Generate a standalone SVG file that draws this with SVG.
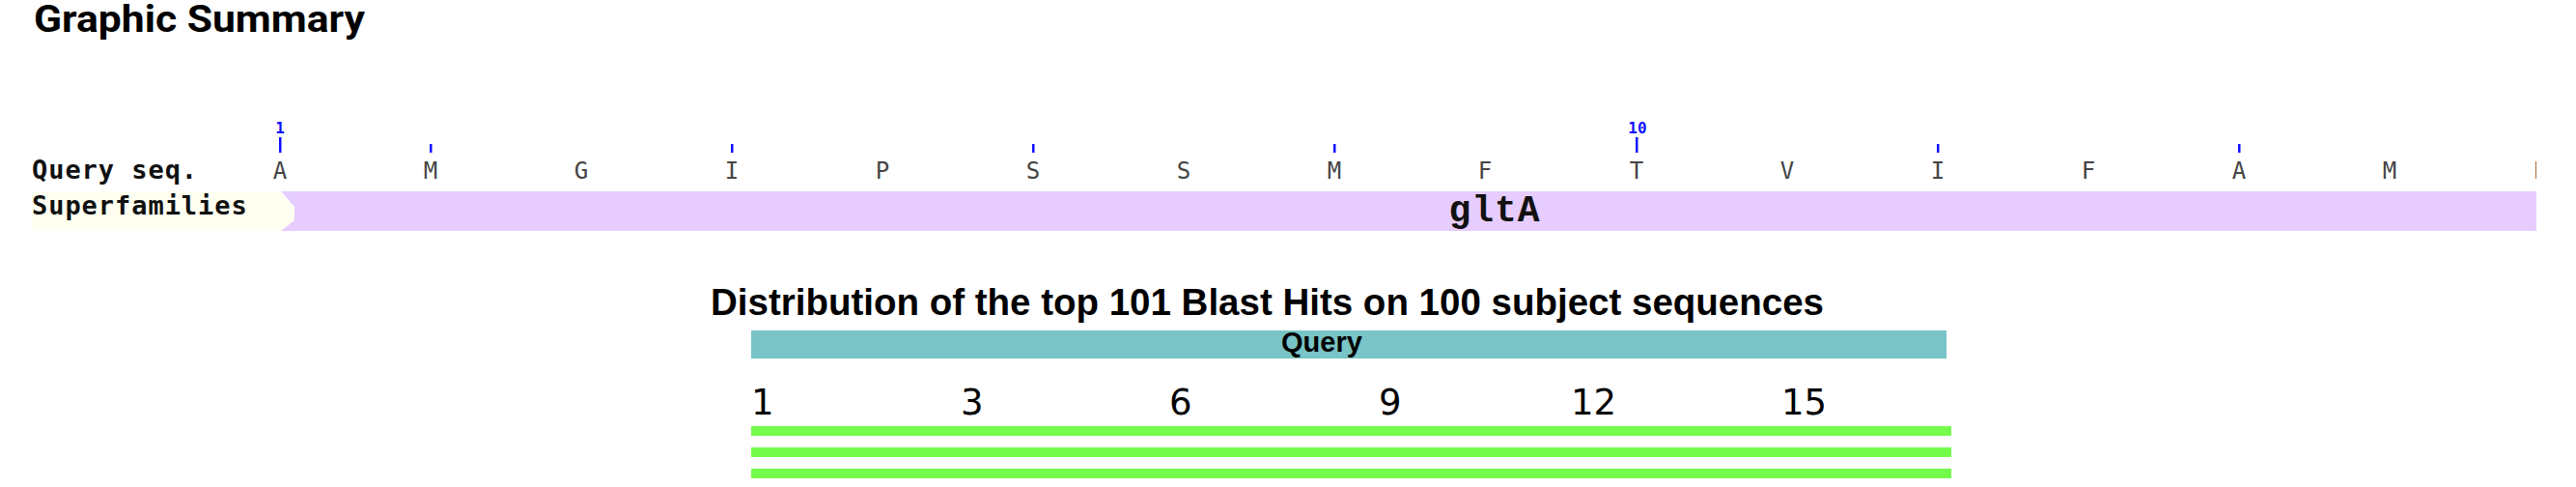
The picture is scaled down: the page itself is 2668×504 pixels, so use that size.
<svg xmlns="http://www.w3.org/2000/svg" width="2668" height="504" viewBox="0 0 2668 504">
<defs>
<style>
.title{font-family:Roboto,"Liberation Sans",sans-serif;font-weight:700;fill:#000}
.dtitle{font-family:"Liberation Sans",Arial,sans-serif;font-weight:700;fill:#000}
.lbl{font-family:"DejaVu Sans Mono","Liberation Mono",monospace;font-weight:700;font-size:27px;letter-spacing:0.95px;fill:#111}
.res{font-family:"DejaVu Sans Mono","Liberation Mono",monospace;font-size:24px;fill:#444;text-anchor:middle}
.num{font-family:"DejaVu Sans Mono","Liberation Mono",monospace;font-weight:700;font-size:16px;fill:#1010ff;text-anchor:middle}
.tick{fill:#1010ff}
.scale{font-family:"DejaVu Sans",Verdana,sans-serif;font-size:37px;fill:#000}
.hit{fill:#74fc4c}
.fam{font-family:"Liberation Mono","DejaVu Sans Mono",monospace;font-weight:700;font-size:38px;letter-spacing:1px;fill:#111;text-anchor:middle}
</style>
<clipPath id="rowclip"><rect x="0" y="100" width="2627" height="150"/></clipPath>
</defs>
<rect width="2668" height="504" fill="#fff"/>
<g id="header">
<text class="title" x="35" y="33" font-size="38" textLength="343" lengthAdjust="spacingAndGlyphs">Graphic Summary</text>
</g>
<g id="query-seq" clip-path="url(#rowclip)">
<text class="lbl" x="33" y="185">Query seq.</text>
<text class="num" x="290" y="138">1</text>
<text class="num" x="1696" y="138">10</text>
<rect class="tick" x="289" y="142" width="2.5" height="16"/>
<rect class="tick" x="1694" y="142" width="2.5" height="16"/>
<rect class="tick" x="445" y="149" width="2.5" height="9"/>
<rect class="tick" x="757" y="149" width="2.5" height="9"/>
<rect class="tick" x="1069" y="149" width="2.5" height="9"/>
<rect class="tick" x="1381" y="149" width="2.5" height="9"/>
<rect class="tick" x="2006" y="149" width="2.5" height="9"/>
<rect class="tick" x="2318" y="149" width="2.5" height="9"/>
<text class="res" y="185"><tspan x="290">A</tspan><tspan x="446">M</tspan><tspan x="602">G</tspan><tspan x="758">I</tspan><tspan x="914">P</tspan><tspan x="1070">S</tspan><tspan x="1226">S</tspan><tspan x="1382">M</tspan><tspan x="1538">F</tspan><tspan x="1695">T</tspan><tspan x="1851">V</tspan><tspan x="2007">I</tspan><tspan x="2163">F</tspan><tspan x="2319">A</tspan><tspan x="2475">M</tspan><tspan x="2631">L</tspan></text>
</g>
<g id="superfamilies">
<rect x="33" y="198" width="272" height="41" fill="#fefff0"/>
<polygon points="291,198 2627,198 2627,239 291,239 305,228 305,214" fill="#e6ccff"/>
<text class="lbl" x="33" y="222">Superfamilies</text>
<text class="fam" x="1548" y="229">gltA</text>
</g>
<g id="distribution">
<text class="dtitle" x="736" y="326" font-size="38" textLength="1153" lengthAdjust="spacingAndGlyphs">Distribution of the top 101 Blast Hits on 100 subject sequences</text>
<rect x="778" y="342" width="1238" height="29" fill="#78c4c6"/>
<text class="dtitle" x="1327" y="364" font-size="29">Query</text>
<text class="scale" y="429"><tspan x="778">1</tspan><tspan x="995">3</tspan><tspan x="1211">6</tspan><tspan x="1428">9</tspan><tspan x="1627">12</tspan><tspan x="1845">15</tspan></text>
</g>
<g id="hits">
<rect class="hit" x="778" y="441" width="1243" height="10"/>
<rect class="hit" x="778" y="463" width="1243" height="10"/>
<rect class="hit" x="778" y="485" width="1243" height="10"/>
</g>
</svg>
